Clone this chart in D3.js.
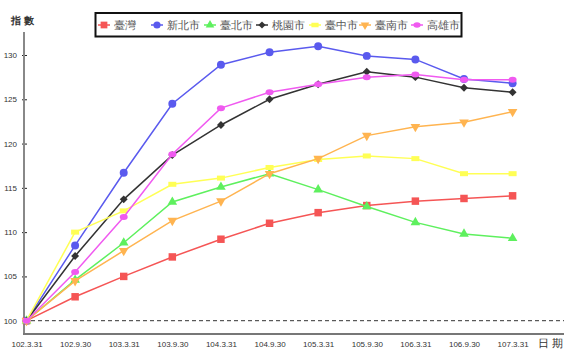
<!DOCTYPE html>
<html><head><meta charset="utf-8">
<script src="https://cdn.jsdelivr.net/npm/d3@7"></script>
<style>body{margin:0;background:#fff}svg{display:block}text{font-family:"Liberation Sans",Arial,sans-serif}</style>
</head><body>
<svg id="c" width="577" height="360"></svg>
<script>
const categories = ["102.3.31","102.9.30","103.3.31","103.9.30","104.3.31","104.9.30","105.3.31","105.9.30","106.3.31","106.9.30","107.3.31"];
const seriesNames = ["臺灣","新北市","臺北市","桃園市","臺中市","臺南市","高雄市"];
const taiwan   = [100,102.7,105.0,107.2,109.2,111.0,112.2,113.0,113.5,113.8,114.1];
const newTaipei= [100,108.5,116.7,124.5,128.9,130.3,131.0,129.9,129.5,127.3,126.8];
const taipei   = [100,104.6,108.8,113.4,115.1,116.6,114.8,112.9,111.1,109.8,109.3];
const taoyuan  = [100,107.3,113.7,118.7,122.1,125.0,126.7,128.1,127.5,126.3,125.8];
const taichung = [100,110.0,112.4,115.4,116.1,117.3,118.2,118.6,118.3,116.6,116.6];
const tainan   = [100,104.5,107.9,111.3,113.5,116.6,118.3,120.9,121.9,122.4,123.6];
const kaohsiung= [100,105.5,111.7,118.8,124.0,125.8,126.7,127.5,127.8,127.2,127.2];
const yTicks = [100,105,110,115,120,125,130];

const allSeries = [taiwan,newTaipei,taipei,taoyuan,taichung,tainan,kaohsiung];
const colors = ["#f55555","#5a5aee","#5ef05e","#333333","#ffff55","#ffb450","#f05af0"];
const symbols = [d3.symbolSquare,d3.symbolCircle,d3.symbolTriangle,"diamond","rect",d3.symbolTriangle,"ellipse"];
const sizes = [56,50,40,0,0,40,0];

const svg = d3.select("#c");
const x = d3.scalePoint().domain(categories).range([26.5,512.6]);
const y = d3.scaleLinear().domain([100,130]).range([320.7,55]);

// y axis
const ya = svg.append("g").attr("transform","translate(24,0)")
  .call(d3.axisLeft(y).tickValues(yTicks).tickSize(3).tickPadding(4));
ya.select(".domain").remove();
ya.selectAll(".tick line").attr("stroke","#222").attr("x2",3).attr("x1",-2);
ya.selectAll(".tick text").attr("font-size",8).attr("fill","#333");
svg.append("line").attr("x1",24).attr("x2",24).attr("y1",32).attr("y2",335).attr("stroke","#888").attr("stroke-width",2);

// x axis
const xa = svg.append("g").attr("transform","translate(0,334)")
  .call(d3.axisBottom(x).tickSize(0).tickPadding(7));
xa.select(".domain").remove();
xa.selectAll(".tick text").attr("font-size",8).attr("fill","#333");
svg.append("line").attr("x1",23).attr("x2",564).attr("y1",334).attr("y2",334).attr("stroke","#777").attr("stroke-width",2);

// dashed baseline
svg.append("line").attr("x1",24).attr("x2",564).attr("y1",y(100)).attr("y2",y(100))
  .attr("stroke","#333").attr("stroke-dasharray","4,3").attr("stroke-width",1);

svg.append("text").attr("x",538).attr("y",347).attr("font-size",11).attr("fill","#333").attr("font-family","Noto Sans CJK TC").text("日 期");
svg.append("text").attr("x",11).attr("y",24).attr("font-size",10).attr("fill","#333").attr("font-weight","bold").attr("font-family","Noto Sans CJK TC").text("指 數");

function drawMarker(g, i, cx, cy, scale) {
  const s = scale || 1;
  const c = colors[i];
  if (symbols[i] === "rect") {
    g.append("rect").attr("x",cx-4*s).attr("y",cy-2.5*s).attr("width",8*s).attr("height",5*s).attr("fill",c);
  } else if (symbols[i] === "ellipse") {
    g.append("ellipse").attr("cx",cx).attr("cy",cy).attr("rx",4*s).attr("ry",3*s).attr("fill",c);
  } else if (symbols[i] === "diamond") {
    g.append("rect").attr("x",-2.8*s).attr("y",-2.8*s).attr("width",5.6*s).attr("height",5.6*s).attr("fill",c)
      .attr("transform",`translate(${cx},${cy}) rotate(45)`);
  } else {
    const p = g.append("path").attr("d",d3.symbol().type(symbols[i]).size(sizes[i]*s*s)())
      .attr("fill",c);
    let t = `translate(${cx},${cy})`;
    if (i === 5) t += " rotate(180)";
    p.attr("transform",t);
  }
}

const line = d3.line().x((d,j)=>x(categories[j])).y(d=>y(d));
allSeries.forEach((s,i)=>{
  const g = svg.append("g");
  g.append("path").datum(s).attr("d",line).attr("fill","none").attr("stroke",colors[i]).attr("stroke-width",1.5);
  s.forEach((v,j)=>drawMarker(g,i,x(categories[j]),y(v)));
});

// legend
svg.append("rect").attr("x",95.5).attr("y",13).attr("width",366).attr("height",23.5)
  .attr("fill","#fff").attr("stroke","#111").attr("stroke-width",2);
const legX = [104,157,210,262,315,365,417];
seriesNames.forEach((n,i)=>{
  const g = svg.append("g");
  g.append("line").attr("x1",legX[i]-6).attr("x2",legX[i]+6).attr("y1",25).attr("y2",25).attr("stroke",colors[i]).attr("stroke-width",1.5);
  drawMarker(g,i,legX[i],25,0.9);
  g.append("text").attr("x",legX[i]+10).attr("y",29).attr("font-size",11).attr("fill","#555")
    .attr("font-family","Noto Sans CJK TC").attr("font-weight",300).text(n);
});
</script>
</body></html>
